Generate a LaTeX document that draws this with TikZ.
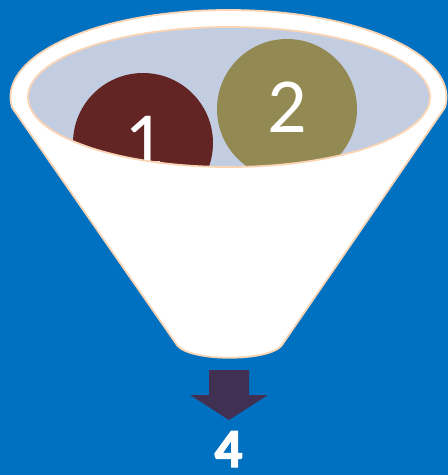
\documentclass[tikz,border=0pt]{standalone}
\usepackage{fontspec}
\setmainfont{Carlito}
\newfontfamily\heavyfont[BoldFont={Carlito Bold},BoldFeatures={FakeBold=2.5}]{Carlito}
\definecolor{bg}{HTML}{0070C0}
\definecolor{peach}{HTML}{FBD4B4}
\definecolor{inner}{HTML}{C2CDE2}
\definecolor{ballone}{HTML}{632523}
\definecolor{balltwo}{HTML}{938953}
\definecolor{arrowc}{HTML}{403152}
\tikzset{
  edge/.style={draw=peach, line width=1.8pt},
  digit/.style={text=white, inner sep=0pt, font=\fontsize{78}{78}\selectfont},
}
\begin{document}
\begin{tikzpicture}[x=1pt,y=-1pt]
\fill[bg] (0,0) rectangle (448,475);
\useasboundingbox (0,0) rectangle (448,475);
% funnel body
\coordinate (fc) at (228.5,97);
\path[fill=white, edge] (fc) ++(173:218 and 87) arc[start angle=173, end angle=367, x radius=218, y radius=87]
  -- (282,345) .. controls (270,362) and (189,362) .. (177,345) -- cycle;
% inner ellipse
\coordinate (ic) at (229,97);
\fill[inner] (ic) ellipse[x radius=201, y radius=70];
\begin{scope}
  \clip (ic) ellipse[x radius=201, y radius=70];
  \fill[ballone] (143,143) circle[radius=70];
  \fill[balltwo] (287,109) circle[radius=70];
  \node[digit, anchor=base] (one) at (144,166) {1};
  \node[digit, anchor=base] (two) at (287,132) {2};
\end{scope}
\draw[edge] (ic) ellipse[x radius=201, y radius=70];
% arrow
\fill[arrowc] (209,370) -- (249,370) -- (249,395) -- (268,395) -- (229,420) -- (190,395) -- (209,395) -- cycle;
\node[text=white, inner sep=0pt, anchor=base, font=\heavyfont\bfseries\fontsize{55}{55}\selectfont] (four) at (228.5,467) {4};
\end{tikzpicture}
\end{document}
